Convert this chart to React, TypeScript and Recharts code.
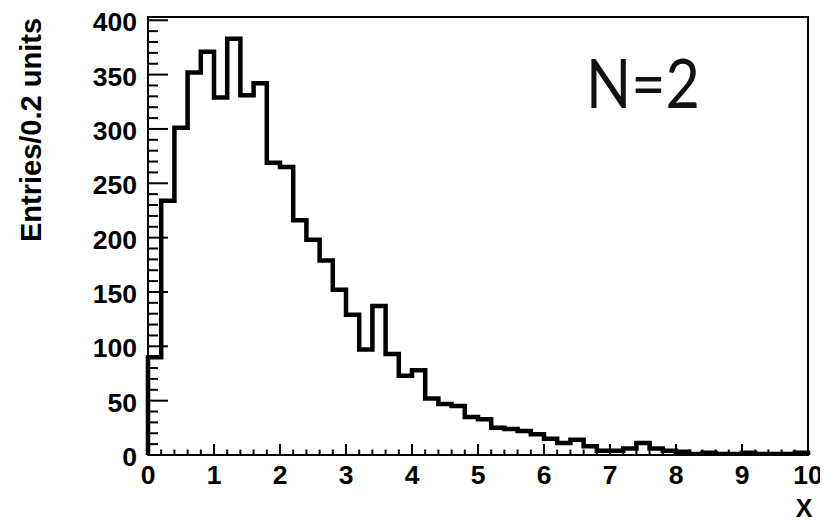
import React from "react";
import {
  ComposedChart,
  Line,
  XAxis,
  YAxis,
  ReferenceArea,
} from "recharts";

// bin contents, 50 bins of 0.2 units from 0 to 10
const binWidth = 0.2;
const counts = [
  90, 234, 301, 352, 371, 329, 383, 331, 342, 269,
  265, 216, 198, 179, 152, 129, 97, 137, 93, 73,
  78, 52, 47, 45, 35, 33, 25, 24, 22, 19,
  15, 11, 14, 8, 4, 4, 6, 11, 6, 4,
  3, 1, 2, 1, 1, 2, 1, 1, 1, 2,
];

const xMajorTicks = [0, 1, 2, 3, 4, 5, 6, 7, 8, 9, 10];
const yMajorTicks = [0, 50, 100, 150, 200, 250, 300, 350, 400];
const xMinorStep = 0.2;
const yMinorStep = 10;
const yTop = 403;

const xTicks: number[] = [];
for (let i = 0; i <= 50; i++) xTicks.push(Math.round(i * xMinorStep * 10) / 10);
const yTicks: number[] = [];
for (let v = 0; v <= 400; v += yMinorStep) yTicks.push(v);

// outline of the histogram: up from the baseline, step across, back down
const outline = [
  { x: 0, y: 0 },
  ...counts.map((c, i) => ({ x: Math.round(i * binWidth * 10) / 10, y: c })),
  { x: 10, y: counts[counts.length - 1] },
  { x: 10, y: 0 },
];

const FONT = '"Liberation Sans", Arial, Helvetica, sans-serif';

const XTick = (props: any) => {
  const { x, y, payload } = props;
  const v = payload.value;
  const major = xMajorTicks.includes(v);
  return (
    <g>
      <line x1={x} x2={x} y1={y} y2={y - (major ? 11 : 5.5)} stroke="#000" strokeWidth={2} />
      {major && (
        <text
          x={x}
          y={y + 20}
          textAnchor="middle"
          dominantBaseline="central"
          fontFamily={FONT}
          fontWeight="bold"
          fontSize={26.5}
          fill="#000"
        >
          {v}
        </text>
      )}
    </g>
  );
};

const YTick = (props: any) => {
  const { x, y, payload } = props;
  const v = payload.value;
  const major = yMajorTicks.includes(v);
  return (
    <g>
      <line x1={x} x2={x + (major ? 20 : 10)} y1={y} y2={y} stroke="#000" strokeWidth={2} />
      {major && (
        <text
          x={x - 11}
          y={y + 2}
          textAnchor="end"
          dominantBaseline="central"
          fontFamily={FONT}
          fontWeight="bold"
          fontSize={26.5}
          fill="#000"
        >
          {v}
        </text>
      )}
    </g>
  );
};

const App: React.FC = () => {
  return (
    <ComposedChart
      width={820}
      height={513}
      data={outline}
      margin={{ top: 9, right: 20, bottom: 0, left: 0 }}
    >
      <XAxis
        type="number"
        dataKey="x"
        domain={[0, 10]}
        ticks={xTicks}
        interval={0}
        tickSize={0}
        tickMargin={0}
        tick={<XTick />}
        height={66}
        axisLine={{ stroke: "#000", strokeWidth: 2 }}
        label={(p: any) => {
          const vb = p.viewBox;
          return (
            <text
              x={vb.x + vb.width - 4}
              y={vb.y + 53}
              textAnchor="middle"
              dominantBaseline="central"
              fontFamily={FONT}
              fontWeight="bold"
              fontSize={25}
              fill="#000"
            >
              X
            </text>
          );
        }}
      />
      <YAxis
        type="number"
        domain={[0, yTop]}
        allowDataOverflow
        ticks={yTicks}
        interval={0}
        tickSize={0}
        tickMargin={0}
        tick={<YTick />}
        width={140}
        axisLine={{ stroke: "#000", strokeWidth: 2 }}
        label={(p: any) => (
          <text
            x={23}
            y={122}
            transform="rotate(-90 23 122)"
            textAnchor="middle"
            dominantBaseline="central"
            fontFamily={FONT}
            fontWeight="bold"
            fontSize={29}
            fill="#000"
          >
            Entries/0.2 units
          </text>
        )}
      />
      <ReferenceArea
        x1={0}
        x2={10}
        y1={0}
        y2={yTop}
        fill="none"
        stroke="#000"
        strokeWidth={2}
        fillOpacity={0}
        label={(p: any) => (
          <text
            x={578}
            y={100}
            fontFamily='Lato, "Open Sans", sans-serif'
            fontSize={68}
            textLength={114}
            lengthAdjust="spacingAndGlyphs"
            fill="#111"
          >
            N=2
          </text>
        )}
      />
      <Line
        type="stepAfter"
        dataKey="y"
        stroke="#000"
        strokeWidth={4.5}
        strokeLinejoin="miter"
        dot={false}
        activeDot={false}
        isAnimationActive={false}
      />
    </ComposedChart>
  );
};

export default App;
